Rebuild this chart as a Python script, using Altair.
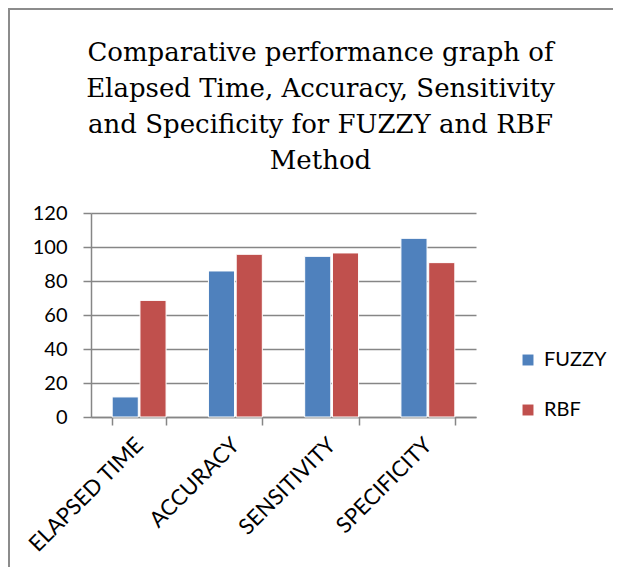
import altair as alt
import pandas as pd

categories = ["ELAPSED TIME", "ACCURACY", "SENSITIVITY", "SPECIFICITY"]
series = ["FUZZY", "RBF"]
fuzzy = [11.8, 85.9, 94.5, 105.1]
rbf = [68.6, 95.7, 96.5, 90.8]
y_ticks = [0, 20, 40, 60, 80, 100, 120]

rows = []
for c, f, r in zip(categories, fuzzy, rbf):
    rows.append({"cat": c, "series": "FUZZY", "value": f})
    rows.append({"cat": c, "series": "RBF", "value": r})
df = pd.DataFrame(rows)

W, H = 385, 204
LABEL_FONT = "Lato"

bars = alt.Chart(df).mark_bar(stroke="white", strokeWidth=1).encode(
    x=alt.X("cat:N", sort=categories, title=None,
            scale=alt.Scale(paddingInner=0.44, paddingOuter=0.22),
            axis=alt.Axis(labelAngle=-45, labelAlign="right", labelBaseline="middle",
                          labelPadding=16, tickBand="extent", tickSize=8,
                          tickColor="#868686", domainColor="#868686", domainWidth=1.5,
                          tickWidth=1.5, grid=False, labelFont=LABEL_FONT,
                          labelFontSize=22, labelColor="black")),
    xOffset=alt.XOffset("series:N", sort=series, scale=alt.Scale(paddingInner=0.06)),
    y=alt.Y("value:Q", title=None,
            scale=alt.Scale(domain=[0, 120], nice=False),
            axis=alt.Axis(values=y_ticks, tickSize=8, tickColor="#868686", tickWidth=1.5,
                          domainColor="#868686", domainWidth=1.5,
                          gridColor="#868686", gridWidth=1.5,
                          labelFont=LABEL_FONT, labelFontSize=20, labelColor="black",
                          labelPadding=16)),
    color=alt.Color("series:N", sort=series,
                    scale=alt.Scale(domain=series, range=["#4F81BD", "#C0504D"]),
                    legend=alt.Legend(title=None, orient="none", legendX=427, legendY=137,
                                      symbolType="square", symbolSize=120,
                                      symbolStrokeWidth=0, rowPadding=30,
                                      labelFont=LABEL_FONT, labelFontSize=20,
                                      labelColor="black", labelOffset=6)),
)

frame_left = alt.Chart(df).mark_rule(color="#8c8c8c", strokeWidth=2, clip=False).encode(
    x=alt.value(-82), y=alt.value(-205), y2=alt.value(H + 160))
frame_top = alt.Chart(df).mark_rule(color="#8c8c8c", strokeWidth=2, clip=False).encode(
    x=alt.value(-83), x2=alt.value(W + 160), y=alt.value(-204))

chart = alt.layer(frame_left, frame_top, bars).properties(
    width=W, height=H,
    autosize=alt.AutoSizeParams(type="none"),
    padding={"left": 83, "top": 205, "right": 137, "bottom": 150},
    title=alt.TitleParams(
        ["Comparative performance graph of", "Elapsed Time, Accuracy, Sensitivity",
         "and Specificity for FUZZY and RBF", "Method"],
        font="DejaVu Serif", fontSize=26, fontWeight="normal", color="black",
        anchor="middle", lineHeight=36, dx=37, dy=167, offset=0),
).configure_view(stroke=None)

chart.save("out.html", embed_options={"renderer": "svg", "actions": False})
